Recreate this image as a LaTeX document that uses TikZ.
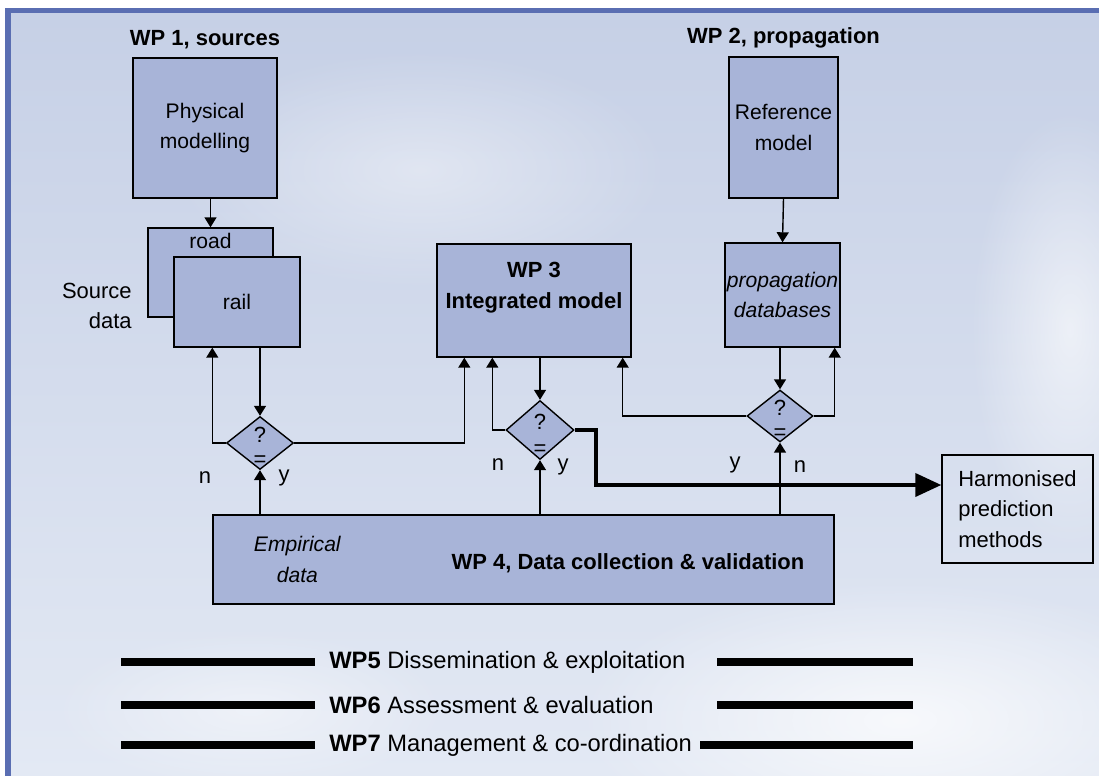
\documentclass[tikz,border=0pt]{standalone}
\usepackage{fontspec}
\setmainfont{Liberation Sans}
\usepackage{tikz}
\usetikzlibrary{positioning,shapes.geometric,arrows.meta,fadings}

\definecolor{wpfill}{HTML}{A8B4D8}
\definecolor{wpframe}{HTML}{5A6EB2}
\definecolor{skytop}{HTML}{C6D0E6}
\definecolor{skylow}{HTML}{E3E9F4}
\tikzfading[name=cloudfade, inner color=transparent!0, outer color=transparent!100]

\tikzset{
  txt/.style={font=\fontsize{12.5}{17.5}\selectfont},
  wptitle/.style={font=\fontsize{12.5}{17.5}\selectfont\bfseries, align=center, inner sep=0pt},
  wpbox/.style={draw=black, line width=0.8pt, fill=wpfill, inner sep=0pt, align=center, font=\fontsize{12}{17.5}\selectfont},
  check/.style={diamond, draw=black, line width=0.8pt, fill=wpfill, inner sep=0pt},
  flow/.style={line width=0.8pt, -{Triangle[length=0.2cm,width=0.24cm]}},
  result/.style={line width=2.2pt, -{Triangle[length=0.52cm,width=0.46cm]}},
  wpbar/.style={line width=4.5pt},
  wpline/.style={anchor=west, inner sep=0pt, font=\fontsize{13.5}{16}\selectfont},
}

\begin{document}
\begin{tikzpicture}[x=0.02cm, y=-0.02cm]
  \useasboundingbox (0,0) rectangle (1099,776);
  \fill[white] (0,0) rectangle (1099,776);
  \fill[wpframe] (5,8) rectangle (1099,776);
  \shade[top color=skytop, bottom color=skylow] (11,14) rectangle (1099,776);
  \begin{scope}
    \clip (11,14) rectangle (1099,776);
    \fill[white, opacity=0.75, path fading=cloudfade] (900,720) ellipse [x radius=6.5cm, y radius=2.8cm];
    \fill[white, opacity=0.6, path fading=cloudfade] (1070,330) ellipse [x radius=2cm, y radius=4.4cm];
    \fill[white, opacity=0.45, path fading=cloudfade] (250,710) ellipse [x radius=4cm, y radius=1.6cm];
    \fill[white, opacity=0.4, path fading=cloudfade] (420,170) ellipse [x radius=5cm, y radius=2.4cm];
  \end{scope}

  % WP 1
  \node[wpbox, minimum width=2.88cm, minimum height=2.8cm] (phys) at (205,128) {Physical\\modelling};
  \node[wptitle, above=0.16cm of phys] (wp1) {WP 1, sources};
  \node[wpbox, minimum width=2.5cm, minimum height=1.78cm] (road) at (210.5,272.5) {};
  \node[wpbox, draw=none, fill=none, below=0.1cm of road.north] (roadtxt) {road};
  \node[wpbox, minimum width=2.52cm, minimum height=1.8cm] (rail) at (237,302) {rail};
  \node[txt, align=right, anchor=east, inner sep=0pt] (srcdata) at (132,306) {Source\\data};

  % WP 2
  \node[wpbox, minimum width=2.18cm, minimum height=2.82cm] (refm) at (783.5,127.5) {Reference\\model};
  \node[wptitle, above=0.16cm of refm] (wp2) {WP 2, propagation};
  \node[wpbox, minimum width=2.3cm, minimum height=2.08cm, font=\fontsize{12}{17.5}\selectfont\itshape] (propdb) at (782.5,295) {propagation\\databases};

  % WP 3
  \node[wpbox, minimum width=3.88cm, minimum height=2.26cm] (wp3) at (534,300.5) {};
  \node[wptitle, below=0.38cm of wp3.north] (wp3txt) {WP 3\\Integrated model};

  % WP 4
  \node[wpbox, minimum width=12.42cm, minimum height=1.78cm] (wp4) at (523.5,559.5) {};
  \node[txt, align=center, font=\fontsize{12}{17.5}\selectfont\itshape] (empdata) at ([xshift=1.7cm]wp4.west) {Empirical\\data};
  \node[wptitle] (wp4txt) at ([xshift=2.09cm,yshift=-0.07cm]wp4.center) {WP 4, Data collection \& validation};

  \node[draw=black, line width=0.8pt, minimum width=3.02cm, minimum height=2.16cm, align=left, txt] (harm) at (1017.5,509) {Harmonised\\prediction\\methods};

  % checks
  \node[check, minimum width=1.34cm, minimum height=1.06cm] (d1) at (260,443) {};
  \node[check, minimum width=1.36cm, minimum height=1.18cm] (d2) at (540,430) {};
  \node[check, minimum width=1.32cm, minimum height=1.04cm] (d3) at (780,416) {};
  \node[txt, inner sep=0pt] (q1) at ([yshift=0.16cm]d1.center) {?};
  \node[txt, inner sep=0pt] (q2) at ([yshift=0.16cm]d2.center) {?};
  \node[txt, inner sep=0pt] (q3) at ([yshift=0.16cm]d3.center) {?};
  \node[txt, inner sep=0pt] (e1) at ([yshift=-0.36cm]d1.center) {=};
  \node[txt, inner sep=0pt] (e2) at ([yshift=-0.4cm]d2.center) {=};
  \node[txt, inner sep=0pt] (e3) at ([yshift=-0.36cm]d3.center) {=};
  \node[txt] (n1) at (205,478) {n};
  \node[txt] (y1) at (284,478) {y};
  \node[txt] (n2) at (498,465) {n};
  \node[txt] (y2) at (563,467) {y};
  \node[txt] (y3) at (735,465) {y};
  \node[txt] (n3) at (800,467) {n};

  \draw[flow] (phys.south -| road.north) -- (road.north);
  \draw[flow] (refm.south) -- (propdb.north);
  \draw[flow] (rail.south -| d1.north) -- (d1.north);
  \draw[flow] (d1.west) -| ([xshift=0.78cm]rail.south west);
  \draw[flow] (d1.east) -| ([xshift=0.56cm]wp3.south west);
  \draw[flow] (wp4.north -| d1.south) -- (d1.south);
  \draw[flow] (wp3.south -| d2.north) -- (d2.north);
  \draw[flow] (d2.west) -| ([xshift=1.12cm]wp3.south west);
  \draw[flow] (wp4.north -| d2.south) -- (d2.south);
  \draw[flow] (propdb.south -| d3.north) -- (d3.north);
  \draw[flow] (d3.east) -| ([xshift=-0.12cm]propdb.south east);
  \draw[flow] (d3.west) -| ([xshift=-0.18cm]wp3.south east);
  \draw[result] (d2.east) -- ++(0.42cm,0) |- ([yshift=0.48cm]harm.west);
  \draw[flow] (wp4.north -| d3.south) -- (d3.south);

  % WP 5-7
  \coordinate (barL) at (121,0);
  \coordinate (barR) at (913,0);
  \coordinate (barM) at (717,0);
  \node[wpline] (wp5) at (329,662) {\textbf{WP5} Dissemination \& exploitation};
  \node[wpline] (wp6) at (329,705) {\textbf{WP6} Assessment \& evaluation};
  \node[wpline] (wp7) at (329,745) {\textbf{WP7} Management \& co-ordination};
  \draw[wpbar] (barL |- wp5.west) -- ([xshift=-0.28cm]wp5.west);
  \draw[wpbar] (barM |- wp5.east) -- (barR |- wp5.east);
  \draw[wpbar] (barL |- wp6.west) -- ([xshift=-0.28cm]wp6.west);
  \draw[wpbar] (barM |- wp6.east) -- (barR |- wp6.east);
  \draw[wpbar] (barL |- wp7.west) -- ([xshift=-0.28cm]wp7.west);
  \draw[wpbar] ([xshift=0.16cm]wp7.east) -- (barR |- wp7.east);
\end{tikzpicture}
\end{document}
